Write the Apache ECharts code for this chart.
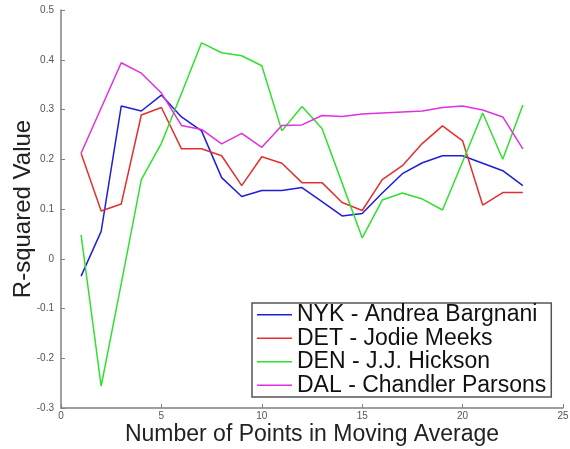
<!DOCTYPE html>
<html>
<head>
<meta charset="utf-8">
<script src="https://cdn.jsdelivr.net/npm/echarts@6/dist/echarts.min.js"></script>
<style>
  html, body { margin: 0; padding: 0; background: #fff; }
  #chart { width: 570px; height: 449px; }
</style>
</head>
<body>
<div id="chart"></div>
<script>
// points in moving average: 1..23
const windowSizes = [1,2,3,4,5,6,7,8,9,10,11,12,13,14,15,16,17,18,19,20,21,22,23];

const seriesNames = [
    'NYK - Andrea Bargnani',
    'DET - Jodie Meeks',
    'DEN - J.J. Hickson',
    'DAL - Chandler Parsons'
];

const nykValues = [-0.035, 0.055, 0.307, 0.297, 0.329, 0.285, 0.257, 0.163, 0.125, 0.137, 0.137, 0.143, 0.115, 0.086, 0.091, 0.132, 0.171, 0.193, 0.207, 0.207, 0.192, 0.177, 0.147];
const detValues = [0.212, 0.096, 0.110, 0.289, 0.304, 0.221, 0.221, 0.207, 0.147, 0.205, 0.192, 0.153, 0.153, 0.113, 0.097, 0.159, 0.187, 0.232, 0.267, 0.237, 0.108, 0.133, 0.133];
const denValues = [0.048, -0.256, -0.050, 0.159, 0.232, 0.332, 0.434, 0.414, 0.408, 0.388, 0.257, 0.306, 0.262, 0.152, 0.042, 0.118, 0.132, 0.120, 0.098, 0.195, 0.293, 0.200, 0.309];
const dalValues = [0.212, 0.303, 0.394, 0.373, 0.333, 0.268, 0.260, 0.231, 0.252, 0.224, 0.268, 0.269, 0.288, 0.286, 0.291, 0.293, 0.295, 0.297, 0.304, 0.307, 0.299, 0.285, 0.221];

const colors = ['#1e1ed8', '#e23030', '#30e030', '#e030e0'];

const chart = echarts.init(document.getElementById('chart'));

function mkSeries(name, vals, color) {
    return {
        name: name,
        type: 'line',
        symbol: 'none',
        data: windowSizes.map((x, i) => [x, vals[i]]),
        lineStyle: { color: color, width: 1.5 },
        itemStyle: { color: color },
        animation: false
    };
}

const axisGray = '#808080';
const font = 'Liberation Sans, Arial, Helvetica, sans-serif';

chart.setOption({
    backgroundColor: '#fff',
    animation: false,
    grid: { left: 61, right: 7, top: 10, bottom: 41, containLabel: false, outerBoundsMode: 'none' },
    xAxis: {
        type: 'value', min: 0, max: 25, interval: 5,
        name: 'Number of Points in Moving Average',
        nameLocation: 'middle', nameGap: 15, nameMoveOverlap: false,
        nameTextStyle: { fontSize: 23, color: '#222', fontFamily: font },
        axisLine: { onZero: false, lineStyle: { color: axisGray, width: 1.5 } },
        axisTick: { inside: true, length: 4, lineStyle: { color: axisGray } },
        axisLabel: { fontSize: 10, color: '#555', margin: 3, fontFamily: font },
        splitLine: { show: false }
    },
    yAxis: {
        type: 'value', min: -0.3, max: 0.5, interval: 0.1,
        name: 'R-squared Value',
        nameLocation: 'middle', nameGap: 26, nameMoveOverlap: false,
        nameTextStyle: { fontSize: 24, color: '#222', fontFamily: font },
        axisLine: { show: true, onZero: false, lineStyle: { color: axisGray, width: 1.5 } },
        axisTick: { show: true, inside: true, length: 4, lineStyle: { color: axisGray } },
        axisLabel: { fontSize: 10, color: '#555', margin: 7, fontFamily: font,
            formatter: v => String(Math.round(v * 10) / 10) },
        splitLine: { show: false }
    },
    legend: {
        orient: 'vertical', left: 252, top: 303,
        data: seriesNames,
        icon: 'rect', itemWidth: 35, itemHeight: 1.5, itemGap: 0,
        borderColor: '#555', borderWidth: 1.5, borderRadius: 0,
        padding: [0, 5, 0, 5],
        backgroundColor: '#fff',
        selectedMode: false,
        textStyle: { fontSize: 23, color: '#111', fontFamily: font, lineHeight: 23.5, padding: [0, 0, 0, 0] }
    },
    series: [
        mkSeries(seriesNames[0], nykValues, colors[0]),
        mkSeries(seriesNames[1], detValues, colors[1]),
        mkSeries(seriesNames[2], denValues, colors[2]),
        mkSeries(seriesNames[3], dalValues, colors[3])
    ]
});
</script>
</body>
</html>
